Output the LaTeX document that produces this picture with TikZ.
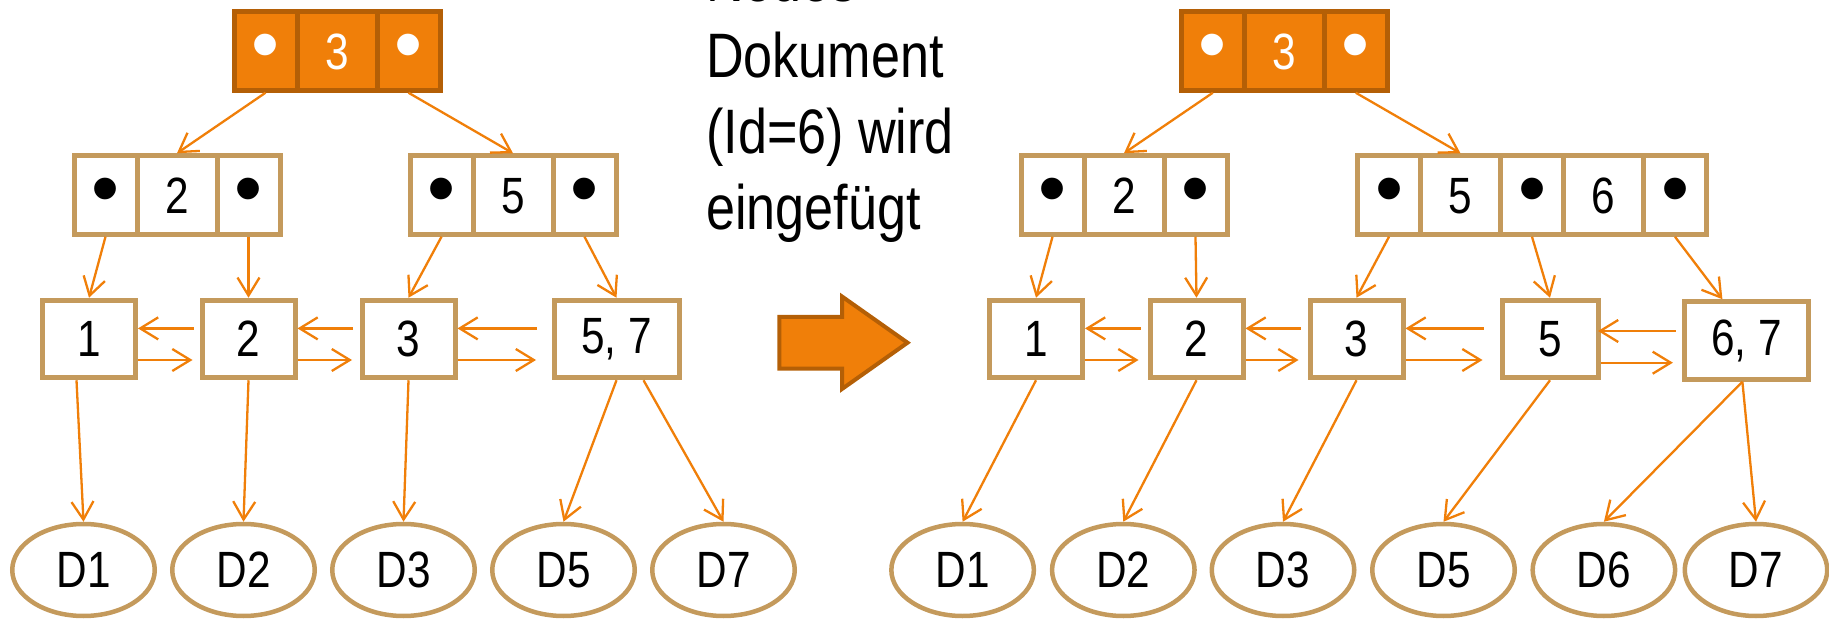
\documentclass[tikz,border=0pt]{standalone}
\usepackage{fontspec}
\setmainfont{Liberation Sans}[FakeStretch=0.83]
\newfontfamily\dotfont{Liberation Sans}
\usetikzlibrary{arrows.meta,calc,shapes.geometric}

\definecolor{linkorange}{RGB}{240,127,9}
\definecolor{rootfill}{RGB}{240,127,9}
\definecolor{rootline}{RGB}{180,95,6}
\definecolor{nodetan}{RGB}{196,154,92}

\newcommand{\ptrdot}{\raisebox{-2pt}{\dotfont\fontsize{80}{80}\selectfont •}}

\begin{document}
\begin{tikzpicture}[x=1pt,y=-1pt,
  cellbase/.style={rectangle, line width=5pt, minimum height=78.5pt, inner sep=0pt,
    text height=36.5pt, text depth=0pt, font=\fontsize{51}{51}\selectfont},
  ptr/.style={cellbase, minimum width=63pt},
  key/.style={cellbase, minimum width=80pt},
  rootcell/.style={draw=rootline, fill=rootfill, text=white},
  treecell/.style={draw=nodetan, fill=white, text=black},
  leafbox/.style={rectangle, draw=nodetan, fill=white, line width=5pt,
    minimum height=77.5pt, minimum width=93pt, inner sep=0pt,
    font=\fontsize{51}{51}\selectfont},
  docnode/.style={ellipse, draw=nodetan, fill=white, line width=4.5pt,
    minimum width=142.5pt, minimum height=92pt, inner sep=0pt,
    font=\fontsize{51}{51}\selectfont},
  link/.style={draw=linkorange, line width=2.3pt, line join=miter,
    -{Straight Barb[length=18pt,width=22pt]}}
]
\useasboundingbox (0,0) rectangle (1829,620);
\clip (0,0) rectangle (1829,620);

% ---------------- tree before the insertion ----------------
\node[ptr,rootcell] (rL1) at (265.5,51) {\ptrdot};
\node[key,rootcell] (rL2) at (337,51) {3};
\node[ptr,rootcell] (rL3) at (408.5,51) {\ptrdot};

\node[ptr,treecell] (aL1) at (105.5,195) {\ptrdot};
\node[key,treecell] (aL2) at (177,195) {2};
\node[ptr,treecell] (aL3) at (248.5,195) {\ptrdot};

\node[ptr,treecell] (bL1) at (441.5,195) {\ptrdot};
\node[key,treecell] (bL2) at (513,195) {5};
\node[ptr,treecell] (bL3) at (584.5,195) {\ptrdot};

\node[leafbox] (lL1) at (89,339) {1};
\node[leafbox] (lL2) at (248.5,339) {2};
\node[leafbox] (lL3) at (408.5,339) {3};
\node[leafbox,minimum width=125pt] (lL4) at (616.5,339) {5, 7};

\node[docnode] (dL1) at (83.5,570) {D1};
\node[docnode] (dL2) at (243.5,570) {D2};
\node[docnode] (dL3) at (403.5,570) {D3};
\node[docnode] (dL5) at (563.5,570) {D5};
\node[docnode] (dL7) at (723.5,570) {D7};

\draw[link] (rL1.south) -- (aL2.north);
\draw[link] (rL3.south) -- (bL2.north);
\draw[link] (aL1.south) -- (lL1.north);
\draw[link] (aL3.south) -- (lL2.north);
\draw[link] (bL1.south) -- (lL3.north);
\draw[link] (bL3.south) -- (lL4.north);

\draw[link] ($(lL2.west)+(-6,-10.6)$) -- ($(lL1.east)+(0,-10.6)$);
\draw[link] ($(lL1.east)+(0,21)$) -- ($(lL2.west)+(-7,21)$);
\draw[link] ($(lL3.west)+(-6.5,-10.6)$) -- ($(lL2.east)+(0,-10.6)$);
\draw[link] ($(lL2.east)+(0,21)$) -- ($(lL3.west)+(-7.5,21)$);
\draw[link] ($(lL4.west)+(-14.5,-10.6)$) -- ($(lL3.east)+(0,-10.6)$);
\draw[link] ($(lL3.east)+(0,21)$) -- ($(lL4.west)+(-15.5,21)$);

\draw[link] ($(lL1.south)+(-12.5,0)$) -- (dL1.north);
\draw[link] (lL2.south) -- (dL2.north);
\draw[link] (lL3.south) -- (dL3.north);
\draw[link] (lL4.south) -- (dL5.north);
\draw[link] ($(lL4.south)+(27,0)$) -- (dL7.north);

% ---------------- caption and transition arrow ----------------
% base anchor of a multi-line node is the baseline of its last line
\node[anchor=base west, align=left, inner sep=0pt,
  font=\fontsize{62.8}{76}\selectfont] (caption) at (706,230)
  {Neues\\Dokument\\(Id=6) wird\\eingefügt};

\filldraw[fill=rootfill, draw=rootline, line width=4pt, line join=miter]
  (779.3,317) -- (842,317) -- (842,296.5) -- (907.5,342.7) -- (842,389)
  -- (842,368.7) -- (779.3,368.7) -- cycle;

% ---------------- tree after the insertion ----------------
\node[ptr,rootcell] (rR1) at (1212.8,51) {\ptrdot};
\node[key,rootcell] (rR2) at (1284.3,51) {3};
\node[ptr,rootcell] (rR3) at (1355.8,51) {\ptrdot};

\node[ptr,treecell] (aR1) at (1052.5,195) {\ptrdot};
\node[key,treecell] (aR2) at (1124,195) {2};
\node[ptr,treecell] (aR3) at (1195.5,195) {\ptrdot};

\node[ptr,treecell] (bR1) at (1389,195) {\ptrdot};
\node[key,treecell] (bR2) at (1460.5,195) {5};
\node[ptr,treecell] (bR3) at (1532,195) {\ptrdot};
\node[key,treecell] (bR4) at (1603.5,195) {6};
\node[ptr,treecell] (bR5) at (1675,195) {\ptrdot};

\node[leafbox] (lR1) at (1036,339) {1};
\node[leafbox] (lR2) at (1196.5,339) {2};
\node[leafbox] (lR3) at (1356.5,339) {3};
\node[leafbox,minimum width=96pt] (lR4) at (1550,339) {5};
\node[leafbox,minimum width=124pt] (lR5) at (1746.4,340.5) {6, 7};

\node[docnode] (dR1) at (962.6,570) {D1};
\node[docnode] (dR2) at (1123.3,570) {D2};
\node[docnode] (dR3) at (1283,570) {D3};
\node[docnode] (dR5) at (1443.5,570) {D5};
\node[docnode] (dR6) at (1603.9,570) {D6};
\node[docnode] (dR7) at (1756,570) {D7};

\draw[link] (rR1.south) -- (aR2.north);
\draw[link] (rR3.south) -- (bR2.north);
\draw[link] (aR1.south) -- (lR1.north);
\draw[link] (aR3.south) -- (lR2.north);
\draw[link] (bR1.south) -- (lR3.north);
\draw[link] (bR3.south) -- (lR4.north);
\draw[link] (bR5.south) -- ($(lR5.north)+(-24,0)$);

\draw[link] ($(lR2.west)+(-7,-10.6)$) -- ($(lR1.east)+(0,-10.6)$);
\draw[link] ($(lR1.east)+(0,21)$) -- ($(lR2.west)+(-9,21)$);
\draw[link] ($(lR3.west)+(-7,-10.6)$) -- ($(lR2.east)+(0,-10.6)$);
\draw[link] ($(lR2.east)+(0,21)$) -- ($(lR3.west)+(-9,21)$);
\draw[link] ($(lR4.west)+(-16,-10.6)$) -- ($(lR3.east)+(0,-10.6)$);
\draw[link] ($(lR3.east)+(0,21)$) -- ($(lR4.west)+(-17,21)$);
\draw[link] ($(lR5.west)+(-6,-9.5)$) -- ($(lR4.east)+(-2.5,-8)$);
\draw[link] ($(lR4.east)+(0,23.7)$) -- ($(lR5.west)+(-9,22.2)$);

\draw[link] (lR1.south) -- (dR1.north);
\draw[link] (lR2.south) -- (dR2.north);
\draw[link] (lR3.south) -- (dR3.north);
\draw[link] (lR4.south) -- (dR5.north);
\draw[link] ($(lR5.south)+(-4,0)$) -- (dR6.north);
\draw[link] ($(lR5.south)+(-4,0)$) -- (dR7.north);
\end{tikzpicture}
\end{document}
